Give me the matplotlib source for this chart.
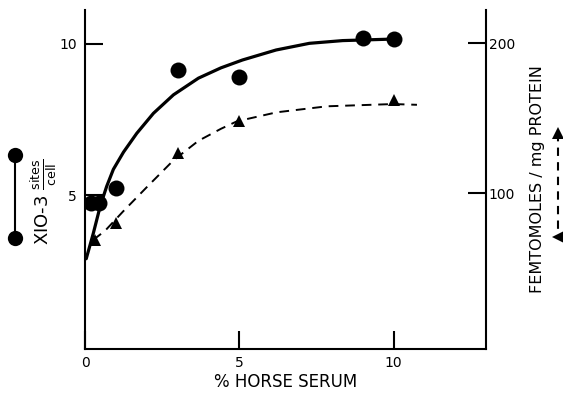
import numpy as np
import matplotlib
matplotlib.use("Agg")
import matplotlib.pyplot as plt
from matplotlib.lines import Line2D

# sites per cell (x10^-3), circles
circ_x = [0.2, 0.45, 1.0, 3.0, 5.0, 9.0, 10.0]
circ_y = [4.75, 4.75, 5.25, 9.13, 8.91, 10.18, 10.15]
# fitted curve
fit_x = [0.03, 0.26, 0.48, 0.69, 0.91, 1.24, 1.67, 2.21, 2.86, 3.67, 4.4,
         5.1, 6.19, 7.27, 8.35, 9.97]
fit_y = [2.9, 3.74, 4.62, 5.28, 5.85, 6.42, 7.04, 7.70, 8.31, 8.86, 9.2,
         9.46, 9.79, 10.01, 10.10, 10.15]

# femtomoles / mg protein, triangles
tri_x = [0.3, 1.0, 3.0, 5.0, 10.0]
tri_y = [69, 80, 127, 148, 162]
dfit_x = [0.26, 0.64, 1.23, 1.99, 2.86, 3.67, 4.4, 4.92, 6.21, 7.84, 9.99, 10.76]
dfit_y = [69, 75, 88, 104, 122, 135, 143, 148, 154, 158, 159.5, 159]

plt.rcParams['font.family'] = 'DejaVu Sans'
plt.rcParams['mathtext.fontset'] = 'dejavusans'

W, H = 563, 401
fig = plt.figure(figsize=(W / 100, H / 100), dpi=100)
ax = fig.add_axes([85 / W, 1 - 349 / H, (486 - 85) / W, (349 - 10) / H])
ax2 = ax.twinx()

ax.plot(fit_x, fit_y, color='k', lw=2.3, solid_capstyle='round', solid_joinstyle='round')
ax.plot(circ_x, circ_y, 'o', color='k', ms=11.5, mew=0)
ax2.plot(dfit_x, dfit_y, color='k', lw=1.4, ls=(0, (5, 3.5)))
ax2.plot(tri_x, tri_y, '^', color='k', ms=8, mew=0)

ax.set_xlim(-0.01, 13.0)
ax.set_ylim(-0.08, 11.11)
ax2.set_ylim(-3.8, 222.2)

ax.set_xticks([0, 5, 10])
ax.set_xticklabels(['0', '5', '10'])
ax.set_yticks([5, 10])
ax.set_yticklabels(['5', '10'])
ax2.set_yticks([100, 200])
ax2.set_yticklabels(['100', '200'])

ax.tick_params(axis='both', direction='in', length=13, width=1.5, labelsize=10, pad=6)
ax.tick_params(axis='x', pad=5)
ax2.tick_params(axis='y', direction='in', length=13, width=1.5, labelsize=10, pad=2)

for a in (ax, ax2):
    a.spines['top'].set_visible(False)
    for s in ('left', 'right', 'bottom'):
        a.spines[s].set_linewidth(1.5)
ax.spines['right'].set_visible(False)
ax2.spines['left'].set_visible(False)
ax2.spines['bottom'].set_visible(False)

ax.set_xlabel('% HORSE SERUM', fontsize=12, labelpad=2)
ax2.set_ylabel('FEMTOMOLES / mg PROTEIN', fontsize=11.5, labelpad=11, rotation=90)

# left key: circles joined by a line
fig.add_artist(Line2D([15 / W, 15 / W], [1 - 155 / H, 1 - 238 / H], color='k', lw=1.5,
                      marker='o', ms=11, mew=0, transform=fig.transFigure))
fig.text(44 / W, 1 - 202 / H, r'XIO-3 $\frac{\mathrm{sites}}{\mathrm{cell}}$',
         rotation=90, ha='center', va='center', fontsize=13)

# right key: triangles joined by a dashed line
fig.add_artist(Line2D([558 / W, 558 / W], [1 - 133 / H, 1 - 237 / H], color='k', lw=1.5,
                      ls=(0, (4, 3)), transform=fig.transFigure))
fig.add_artist(Line2D([558 / W], [1 - 133 / H], color='k', marker='^', ms=8, mew=0,
                      transform=fig.transFigure))
fig.add_artist(Line2D([558 / W], [1 - 237 / H], color='k', marker='<', ms=8, mew=0,
                      transform=fig.transFigure))

fig.savefig('out.png', dpi=100)
